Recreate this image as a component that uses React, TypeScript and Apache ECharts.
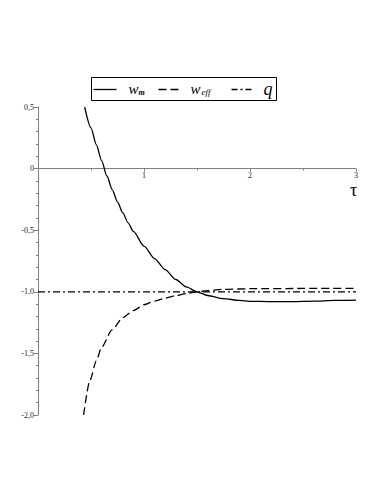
import React, { useEffect, useRef } from "react";
import * as echarts from "echarts";

const tauM = [0.44, 0.5, 0.55, 0.6, 0.65, 0.7, 0.75, 0.8, 0.85, 0.9, 1.0, 1.1, 1.2, 1.3, 1.4, 1.5, 1.6, 1.75, 1.9, 2.0, 2.2, 2.4, 2.6, 2.8, 3.0];
const wM = [0.5, 0.33, 0.195, 0.065, -0.06, -0.17, -0.27, -0.36, -0.44, -0.51, -0.63, -0.73, -0.82, -0.9, -0.96, -1.0, -1.03, -1.055, -1.07, -1.077, -1.08, -1.08, -1.076, -1.07, -1.067];

const tauEff = [0.43, 0.49, 0.55, 0.6, 0.7, 0.8, 0.9, 1.0, 1.1, 1.2, 1.3, 1.4, 1.5, 1.6, 1.75, 2.0, 2.5, 3.0];
const wEff = [-2.0, -1.72, -1.56, -1.45, -1.307, -1.21, -1.152, -1.105, -1.075, -1.052, -1.032, -1.014, -1.0, -0.99, -0.98, -0.975, -0.973, -0.973];

const tauQ = [0, 3];
const qVals = [-1, -1];

const FONT = "'Liberation Serif', 'DejaVu Serif', serif";

const Y_MIN = -2;
const Y_MAX = 0.5;
const GRID_TOP = 107;
const GRID_BOTTOM = 82;
const CHART_H = 497;

function fmt(v: number): string {
  if (Math.abs(v) < 1e-9) return "0";
  return v.toFixed(1).replace(".", ",");
}

export default function App() {
  const ref = useRef<HTMLDivElement>(null);
  useEffect(() => {
    if (!ref.current) return;
    const chart = echarts.init(ref.current, null, { renderer: "svg" });
    const zip = (xs: number[], ys: number[]) => xs.map((x, i) => [x, ys[i]]);
    const plotH = CHART_H - GRID_TOP - GRID_BOTTOM;
    const zeroOffset = -(plotH * (0 - Y_MIN)) / (Y_MAX - Y_MIN);
    chart.setOption({
      animation: false,
      backgroundColor: "#ffffff",
      grid: { left: 38, right: 28, top: GRID_TOP, bottom: GRID_BOTTOM, containLabel: false, outerBoundsMode: "none" },
      xAxis: {
        type: "value",
        min: 0,
        max: 3,
        interval: 1,
        position: "bottom",
        offset: zeroOffset,
        axisLine: { onZero: false, lineStyle: { color: "#808080", width: 1 } },
        axisTick: { show: true, length: 3, lineStyle: { color: "#808080" } },
        minorTick: { show: true, splitNumber: 2, length: 2, lineStyle: { color: "#808080" } },
        splitLine: { show: false },
        axisLabel: {
          fontFamily: FONT,
          fontSize: 8,
          color: "#222",
          margin: 3,
          formatter: (v: number) => (v === 0 ? "" : String(v)),
        },
      },
      yAxis: {
        type: "value",
        min: Y_MIN,
        max: Y_MAX,
        interval: 0.5,
        axisLine: { show: true, onZero: false, lineStyle: { color: "#808080", width: 1 } },
        axisTick: { show: true, length: 4, lineStyle: { color: "#808080" } },
        minorTick: { show: true, splitNumber: 5, length: 2, lineStyle: { color: "#808080" } },
        splitLine: { show: false },
        axisLabel: {
          fontFamily: FONT,
          fontSize: 8,
          color: "#222",
          margin: 4,
          formatter: (v: number) => fmt(v),
        },
      },
      series: [
        {
          name: "q",
          type: "line",
          data: zip(tauQ, qVals),
          showSymbol: false,
          lineStyle: { color: "#000", width: 1.3, type: [7, 3, 2, 3] },
          z: 2,
        },
        {
          name: "w_eff",
          type: "line",
          data: zip(tauEff, wEff),
          showSymbol: false,
          smooth: 0.25,
          smoothMonotone: "x",
          lineStyle: { color: "#000", width: 1.3, type: [8, 4] },
          z: 3,
        },
        {
          name: "w_m",
          type: "line",
          data: zip(tauM, wM),
          showSymbol: false,
          smooth: 0.25,
          smoothMonotone: "x",
          lineStyle: { color: "#000", width: 1.3, type: "solid" },
          z: 4,
        },
      ],
      graphic: [
        {
          type: "text",
          left: 350,
          top: 181,
          style: { text: "τ", fontFamily: FONT, fontSize: 18, fill: "#000" },
        },
        {
          type: "group",
          left: 91,
          top: 77,
          children: [
            {
              type: "rect",
              shape: { x: 0, y: 0, width: 185, height: 23 },
              style: { fill: "#fff", stroke: "#000", lineWidth: 1 },
            },
            {
              type: "line",
              shape: { x1: 2, y1: 12, x2: 25, y2: 12 },
              style: { stroke: "#000", lineWidth: 1.3 },
            },
            {
              type: "text",
              x: 37,
              y: 4,
              style: {
                text: "{a|w}{b|m}",
                rich: {
                  a: { fontFamily: FONT, fontStyle: "italic", fontSize: 15, fill: "#000" },
                  b: { fontFamily: FONT, fontStyle: "italic", fontWeight: "bold", fontSize: 8, fill: "#000", padding: [6, 0, 0, 0] },
                },
              },
            },
            {
              type: "line",
              shape: { x1: 67, y1: 12, x2: 88, y2: 12 },
              style: { stroke: "#000", lineWidth: 1.3, lineDash: [8, 4] },
            },
            {
              type: "text",
              x: 99,
              y: 4,
              style: {
                text: "{a|w}{b|eff}",
                rich: {
                  a: { fontFamily: FONT, fontStyle: "italic", fontSize: 15, fill: "#000" },
                  b: { fontFamily: FONT, fontStyle: "italic", fontSize: 9, fill: "#000", padding: [6, 0, 0, 1] },
                },
              },
            },
            {
              type: "line",
              shape: { x1: 140, y1: 12, x2: 160, y2: 12 },
              style: { stroke: "#000", lineWidth: 1.3, lineDash: [6, 3, 2, 3] },
            },
            {
              type: "text",
              x: 172,
              y: 2,
              style: { text: "q", fontFamily: FONT, fontStyle: "italic", fontSize: 18, fill: "#000" },
            },
          ],
        },
      ],
    });
    return () => chart.dispose();
  }, []);
  return <div ref={ref} style={{ position: "absolute", left: 0, top: 0, width: 384, height: 497 }} />;
}
